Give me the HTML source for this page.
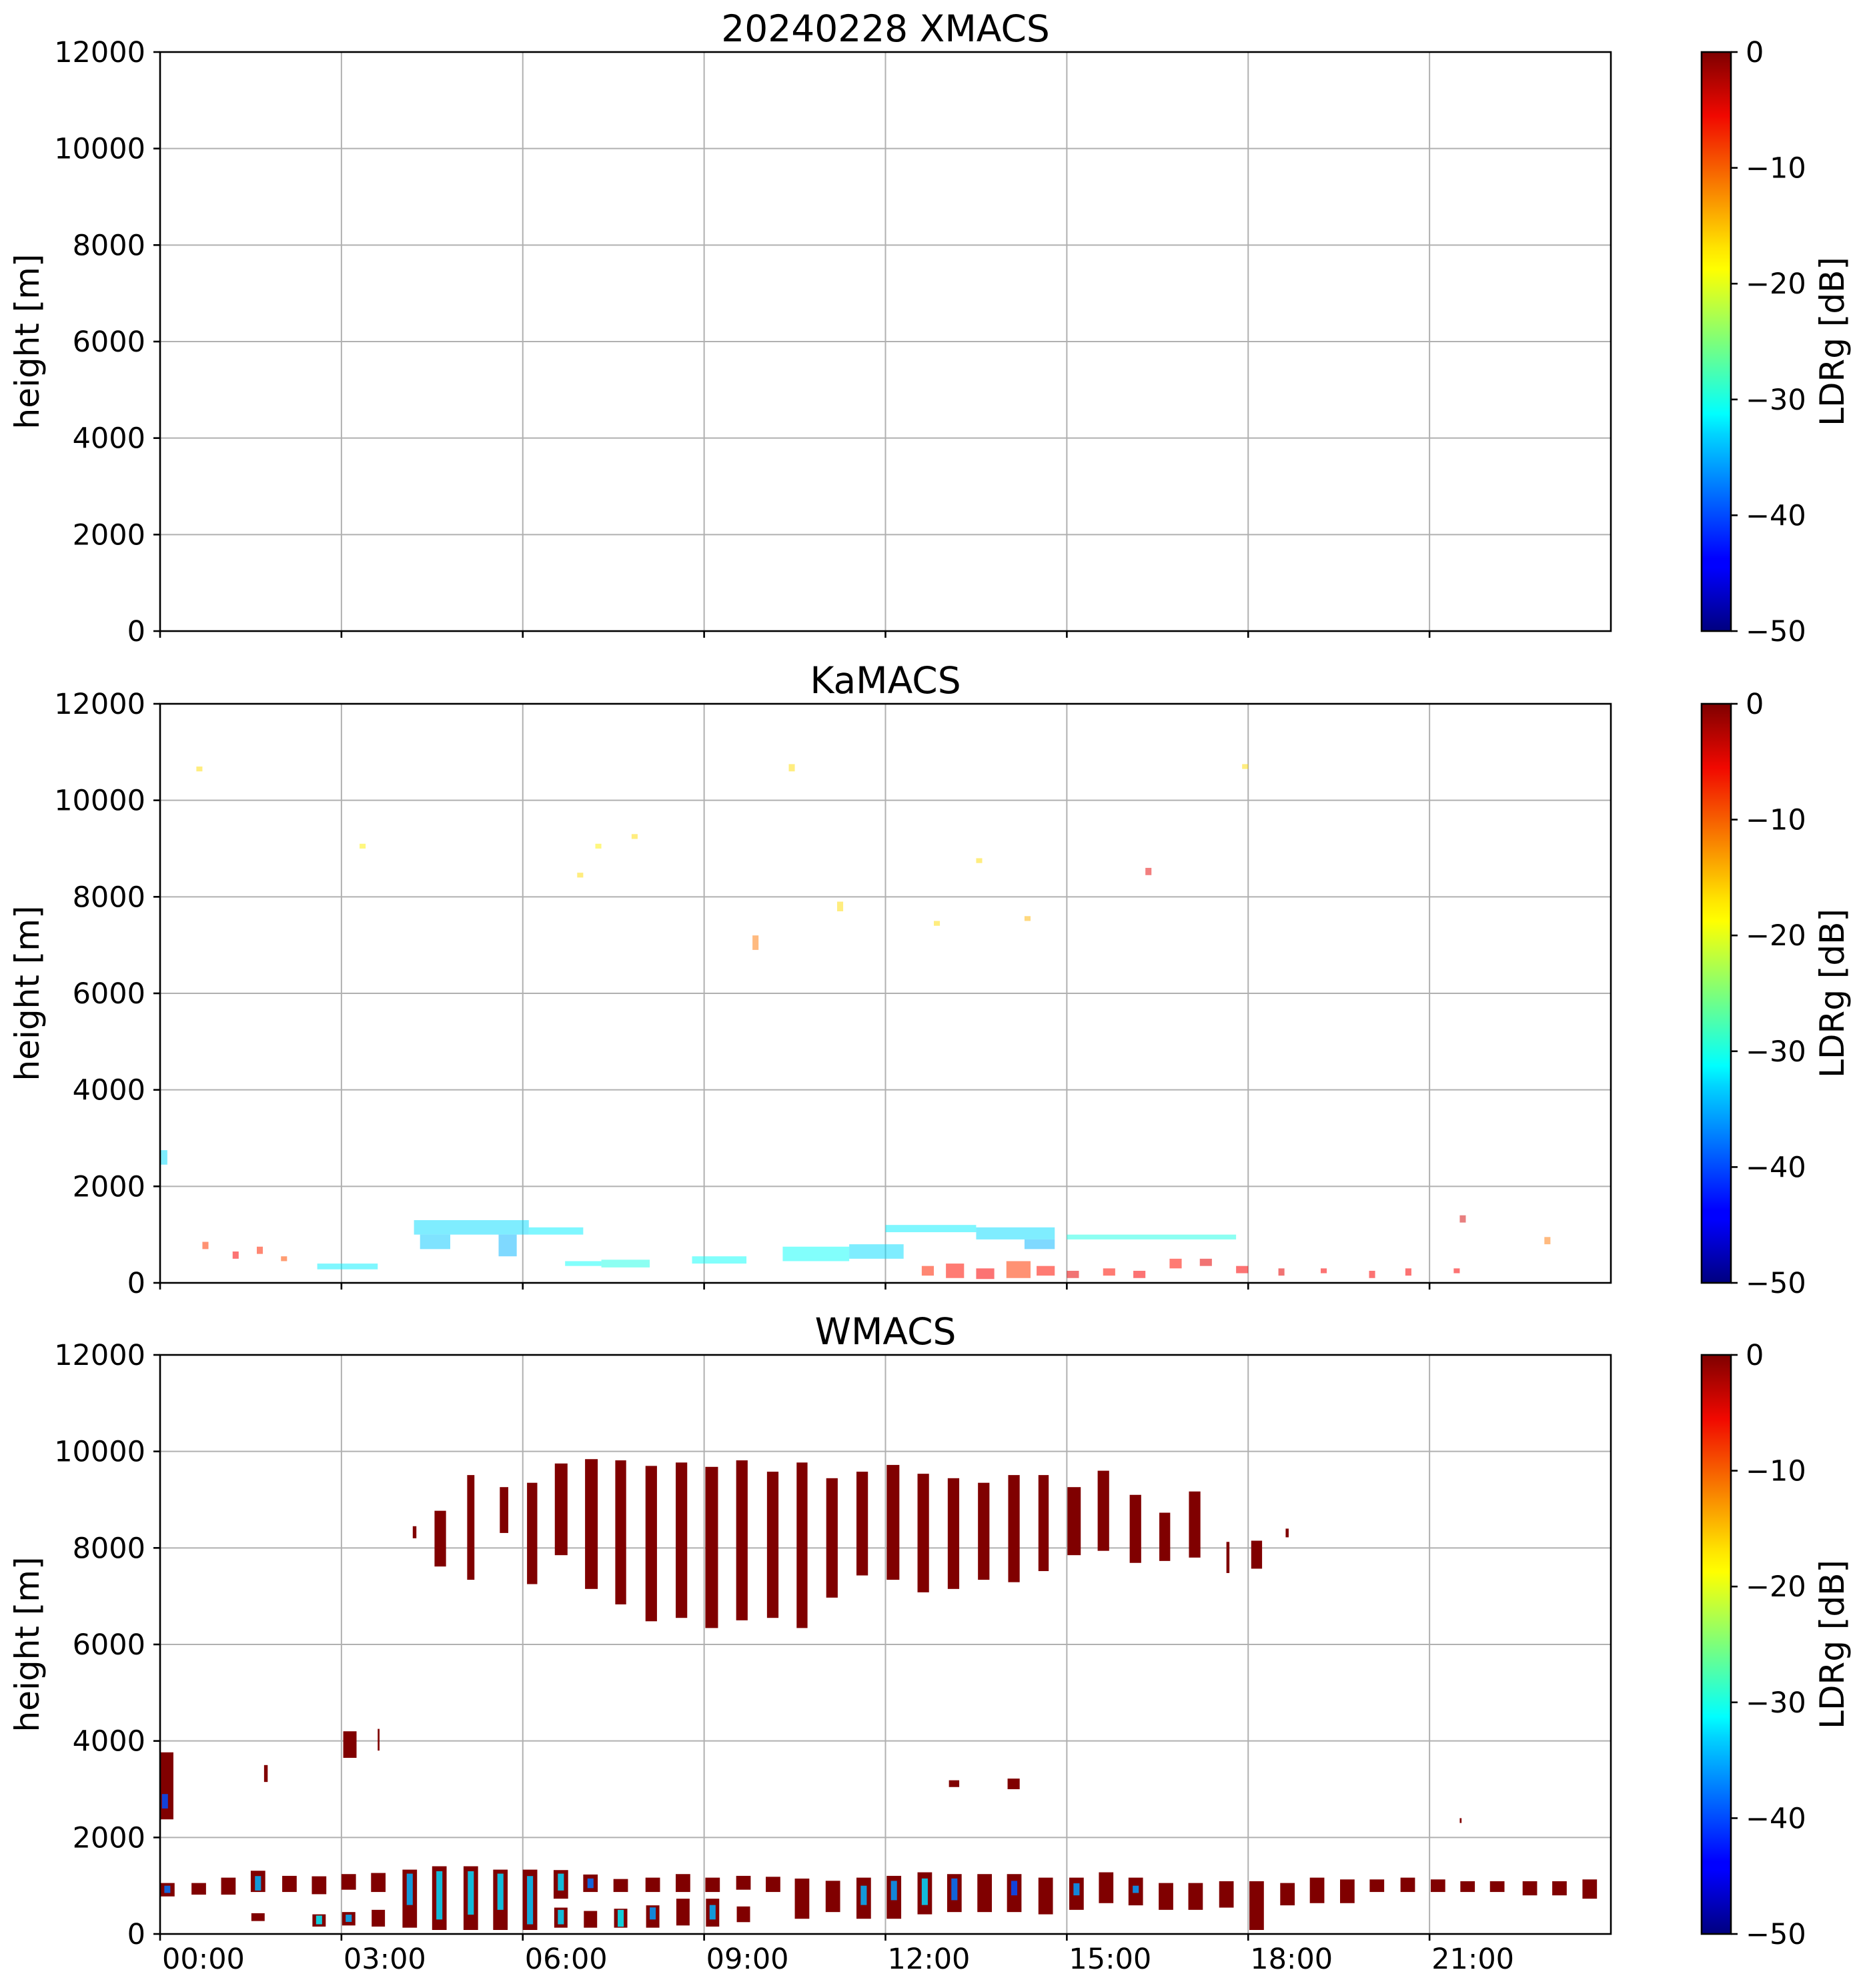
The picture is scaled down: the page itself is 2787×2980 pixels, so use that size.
<!DOCTYPE html>
<html><head><meta charset="utf-8"><style>
html,body{margin:0;padding:0;background:#fff;}
svg{display:block;font-family:"DejaVu Sans","Liberation Sans",sans-serif;}
</style></head><body>
<svg id="fig" xmlns="http://www.w3.org/2000/svg" width="2787" height="2980" viewBox="0 0 2787 2980">
<defs>
<linearGradient id="jet" x1="0" y1="1" x2="0" y2="0">
<stop offset="0" stop-color="#00007f"/><stop offset="0.11" stop-color="#0000ff"/><stop offset="0.125" stop-color="#0000ff"/>
<stop offset="0.34" stop-color="#00d4ff"/><stop offset="0.375" stop-color="#0ff"/><stop offset="0.5" stop-color="#7dff7a"/>
<stop offset="0.625" stop-color="#ff0"/><stop offset="0.66" stop-color="#ffe600"/><stop offset="0.89" stop-color="#f10800"/>
<stop offset="1" stop-color="#7f0000"/></linearGradient>
</defs>
<g id="root"></g>
</svg>
<script>
// ---- data ----
const panelTitles = ["20240228 XMACS", "KaMACS", "WMACS"];
const yTicks = [0, 2000, 4000, 6000, 8000, 10000, 12000];
const xTickHours = [0, 3, 6, 9, 12, 15, 18, 21];
const xTickLabels = ["00:00","03:00","06:00","09:00","12:00","15:00","18:00","21:00"];
const cbTicks = [0, -10, -20, -30, -40, -50];
const cbTickLabels = ["0","\u221210","\u221220","\u221230","\u221240","\u221250"];

// XMACS: no echoes
const xmacsEchoes = [];

// KaMACS echoes: [hourStart, hourEnd, zBottom, zTop, LDR]
const kaEchoes = [
 [0.0,0.12,2450,2750,-33],[2.6,3.6,280,400,-32],[4.2,6.1,1000,1300,-33],[4.3,4.8,700,1000,-34],
 [5.6,5.9,550,1000,-35],[6.1,7.0,1000,1150,-32],[6.7,7.3,350,450,-31],[7.3,8.1,320,480,-30],
 [8.8,9.7,400,550,-31],[10.3,11.4,450,750,-31],[11.4,12.3,500,800,-33],[12.0,13.5,1050,1200,-32],
 [13.5,14.8,900,1150,-33],[14.3,14.8,700,900,-35],[15.0,17.8,900,1000,-30],
 [21.5,21.6,1250,1400,-4],[22.9,23.0,800,950,-12],
 [10.4,10.5,10600,10750,-17],[17.9,18.0,10650,10750,-17],[9.8,9.9,6900,7200,-12],[11.2,11.3,7700,7900,-17],
 [6.9,7.0,8400,8500,-17],[7.8,7.9,9200,9300,-17],[3.3,3.4,9000,9100,-18],[16.3,16.4,8450,8600,-5],
 [12.8,12.9,7400,7500,-17],[0.6,0.7,10600,10700,-17],[7.2,7.3,9000,9100,-18],[14.3,14.4,7500,7600,-15],
 [13.5,13.6,8700,8800,-17]
];
// KaMACS near-surface warm specks: [hourStart, hourEnd, zBottom, zTop, LDR]
const kaSpecks = [
 [0.7,0.8,700,850,-9],[1.2,1.3,500,650,-6],[1.6,1.7,600,750,-8],[2.0,2.1,450,550,-10],
 [12.6,12.8,150,350,-8],[13.0,13.3,100,400,-7],[13.5,13.8,80,300,-6],[14.0,14.4,100,450,-9],[14.5,14.8,150,350,-7],
 [15.0,15.2,100,250,-5],[15.6,15.8,150,300,-7],[16.1,16.3,100,250,-6],[16.7,16.9,300,500,-7],
 [17.2,17.4,350,500,-5],[17.8,18.0,200,350,-6],[18.5,18.6,150,300,-5],[19.2,19.3,200,300,-6],
 [20.0,20.1,100,250,-6],[20.6,20.7,150,300,-6],[21.4,21.5,200,300,-6]
];

// WMACS upper ice-cloud columns: [hourStart, hourEnd, zBottom, zTop]
const wUpperCols = [
 [4.18,4.24,8200,8450],[4.54,4.73,7615,8770],[5.08,5.20,7340,9510],[5.62,5.76,8310,9260],
 [6.07,6.24,7250,9350],[6.53,6.74,7850,9750],[7.03,7.24,7150,9840],[7.53,7.71,6830,9815],
 [8.03,8.22,6480,9700],[8.53,8.72,6550,9770],[9.02,9.23,6340,9680],[9.53,9.72,6500,9815],
 [10.04,10.23,6550,9580],[10.53,10.71,6340,9770],[11.02,11.21,6970,9445],[11.52,11.71,7430,9580],
 [12.02,12.23,7340,9720],[12.53,12.72,7080,9537],[13.03,13.22,7150,9445],[13.53,13.72,7340,9350],
 [14.03,14.22,7290,9510],[14.53,14.70,7520,9510],[15.01,15.23,7850,9260],[15.51,15.70,7940,9600],
 [16.04,16.23,7690,9100],[16.53,16.71,7730,8730],[17.02,17.21,7800,9170],[17.64,17.69,7480,8125],
 [18.05,18.23,7570,8150],[18.62,18.67,8220,8400]
];
// WMACS mid-level patches: [hourStart, hourEnd, zBottom, zTop]
const wMidPatches = [
 [0.0,0.22,2375,3764],[3.03,3.25,3650,4200],[1.72,1.78,3150,3500],[3.6,3.63,3800,4250],
 [13.05,13.22,3045,3185],[14.02,14.22,3000,3220],[21.5,21.53,2300,2400]
];
// WMACS boundary-layer blocks: [hourCenter, zBottom, zTop]
const wLowerBlocks = [
 [0.12,778,1056],[0.64,815,1056],[1.13,815,1167],[1.62,870,1310],[2.14,870,1204],[2.63,824,1195],
 [3.12,917,1241],[3.61,870,1264],[4.13,130,1333],[4.62,83,1403],[5.14,83,1403],[5.63,83,1333],
 [6.12,83,1333],[6.63,731,1324],[7.12,870,1232],[7.62,870,1139],[8.15,870,1167],[8.65,870,1241],
 [9.14,870,1167],[9.65,917,1204],[10.14,870,1185],[10.62,315,1148],[11.13,454,1102],[11.64,315,1167],
 [12.14,315,1204],[12.65,407,1278],[13.14,454,1241],[13.64,454,1241],[14.13,454,1241],[14.65,407,1167],
 [15.16,500,1167],[15.65,639,1278],[16.14,593,1167],[16.64,500,1056],[17.13,500,1056],[17.64,546,1093],
 [18.14,83,1093],[18.65,593,1056],[19.14,639,1167],[19.64,639,1130],[20.13,870,1130],[20.64,870,1167],
 [21.14,870,1130],[21.63,870,1093],[22.12,870,1093],[22.66,800,1093],[23.15,800,1093],[23.65,731,1130]
];
// WMACS second low layer: [hourCenter, zBottom, zTop]
const wLowerSecond = [
 [1.62,268,430],[2.63,153,407],[3.12,176,454],[3.61,153,500],[6.63,130,546],[7.12,130,477],
 [7.62,130,523],[8.15,130,593],[8.65,176,731],[9.14,153,731],[9.65,245,570]
];
// WMACS low-LDR cores: [hourCenter, zBottom, zTop, LDR]
const wCores = [
 [0.12,850,1000,-38],[1.62,900,1200,-35],[2.63,200,380,-32],[3.12,250,400,-35],[4.13,600,1250,-35],
 [4.62,300,1300,-33],[5.14,400,1300,-33],[5.63,500,1250,-33],[6.12,200,1200,-34],[6.63,900,1250,-33],
 [6.63,200,500,-33],[7.12,950,1150,-38],[7.62,150,500,-32],[8.15,300,550,-36],[9.14,300,600,-35],
 [11.64,600,1000,-35],[12.14,700,1100,-36],[12.65,600,1150,-33],[13.14,700,1150,-38],[14.13,800,1100,-40],
 [15.16,800,1050,-36],[16.14,850,1000,-36],[0.08,2600,2900,-40]
];

// ---- layout ----
const X0 = 240, X1 = 2415, HMAX = 24, ZMAX = 12000;
const panelTops = [78, 1055, 2031], PH = 868;
const CBX = 2551, CBW = 44;
const NS = "http://www.w3.org/2000/svg";
const root = document.getElementById('root');

function xs(h){ return X0 + (X1 - X0) * h / HMAX; }
function ys(p, z){ return panelTops[p] + PH - PH * z / ZMAX; }
function jet(v){
  const t = Math.max(0, Math.min(1, (v + 50) / 50));
  const c = k => Math.round(255 * Math.max(0, Math.min(1, 1.5 - Math.abs(4 * t - k))));
  return `rgb(${c(3)},${c(2)},${c(1)})`;
}
function mk(tag, attrs, parent){
  const e = document.createElementNS(NS, tag);
  for (const k in attrs) e.setAttribute(k, attrs[k]);
  (parent || root).appendChild(e);
  return e;
}
function txt(s, attrs, parent){
  const e = mk('text', attrs, parent);
  e.textContent = s;
  return e;
}
function rectHZ(p, h0, h1, z0, z1, fill, g, op){
  const r = mk('rect', {x: xs(h0), y: ys(p, z1), width: Math.max(2, xs(h1) - xs(h0)),
    height: Math.max(2, ys(p, z0) - ys(p, z1)), fill: fill}, g);
  if (op) r.setAttribute('opacity', op);
  return r;
}

const panelNames = ['xmacs', 'kamacs', 'wmacs'];
for (let p = 0; p < 3; p++){
  const top = panelTops[p], bot = top + PH;
  const g = mk('g', {});
  
  
  const grid = mk('g', {stroke: '#b0b0b0', 'stroke-width': 2}, g);
  
  
  yTicks.forEach(z => mk('line', {x1: X0, x2: X1, y1: ys(p, z), y2: ys(p, z)}, grid));
  xTickHours.forEach(h => mk('line', {x1: xs(h), x2: xs(h), y1: top, y2: bot}, grid));
  const dg = mk('g', {}, g);
  
  
  if (p === 0){
    xmacsEchoes.forEach(d => rectHZ(p, d[0], d[1], d[2], d[3], jet(d[4]), dg));
  }
  if (p === 1){
    kaEchoes.forEach(d => {
      const r = rectHZ(p, d[0], d[1], d[2], d[3], jet(d[4]), dg, 0.5);
      
      
    });
    kaSpecks.forEach(d => {
      const r = rectHZ(p, d[0], d[1], d[2], d[3], jet(d[4]), dg, 0.55);
      
      
    });
  }
  if (p === 2){
    const red = jet(0);
    wUpperCols.forEach(d => {
      const r = rectHZ(p, d[0], d[1], d[2], d[3], red, dg);
      
      
    });
    wMidPatches.forEach(d => {
      const r = rectHZ(p, d[0], d[1], d[2], d[3], red, dg);
      
      
    });
    wLowerBlocks.forEach(d => {
      const r = rectHZ(p, d[0] - 0.12, d[0] + 0.12, d[1], d[2], red, dg);
      
      
    });
    wLowerSecond.forEach(d => {
      const r = rectHZ(p, d[0] - 0.11, d[0] + 0.11, d[1], d[2], red, dg);
      
      
    });
    wCores.forEach(d => {
      const r = rectHZ(p, d[0] - 0.05, d[0] + 0.05, d[1], d[2], jet(d[3]), dg, 0.85);
      
      
    });
  }
  const fr = mk('rect', {x: X0, y: top, width: X1 - X0, height: PH, fill: 'none', stroke: '#000', 'stroke-width': 2.6}, g);
  
  
  const yt = mk('g', {}, g);
  
  
  yTicks.forEach(z => {
    mk('line', {x1: X0 - 10, x2: X0, y1: ys(p, z), y2: ys(p, z), stroke: '#000', 'stroke-width': 2.6}, yt);
    const t = txt(String(z), {x: 218, y: ys(p, z) + 15, 'font-size': 43, 'text-anchor': 'end', fill: '#000'}, yt);
    
    
  });
  const xt = mk('g', {}, g);
  
  
  xTickHours.forEach((h, i) => {
    mk('line', {x1: xs(h), x2: xs(h), y1: bot, y2: bot + 10, stroke: '#000', 'stroke-width': 2.6}, xt);
    if (p === 2){
      const t = txt(xTickLabels[i], {x: xs(h) + 3, y: 2951, 'font-size': 43, fill: '#000'}, xt);
      
      
    }
  });
  const cy = top + PH / 2;
  const yl = txt('height [m]', {x: 58, y: cy, 'font-size': 50, 'text-anchor': 'middle', transform: `rotate(-90 58 ${cy})`}, g);
  
  
  const tt = txt(panelTitles[p], {x: (X0 + X1) / 2, y: top - 16, 'font-size': 55, 'text-anchor': 'middle'}, g);
  
  
  const cb = mk('g', {}, g);
  
  
  mk('rect', {x: CBX, y: top, width: CBW, height: PH, fill: 'url(#jet)', stroke: '#000', 'stroke-width': 2.6}, cb);
  cbTicks.forEach((v, i) => {
    const y = top + PH * (-v) / 50;
    mk('line', {x1: CBX + CBW, x2: CBX + CBW + 10, y1: y, y2: y, stroke: '#000', 'stroke-width': 2.6}, cb);
    const t = txt(cbTickLabels[i], {x: CBX + CBW + 22, y: y + 15, 'font-size': 43}, cb);
    
    
  });
  const cl = txt('LDRg [dB]', {x: 2764, y: cy, 'font-size': 50, 'text-anchor': 'middle', transform: `rotate(-90 2764 ${cy})`}, cb);
  
  
}
</script>
</body></html>
